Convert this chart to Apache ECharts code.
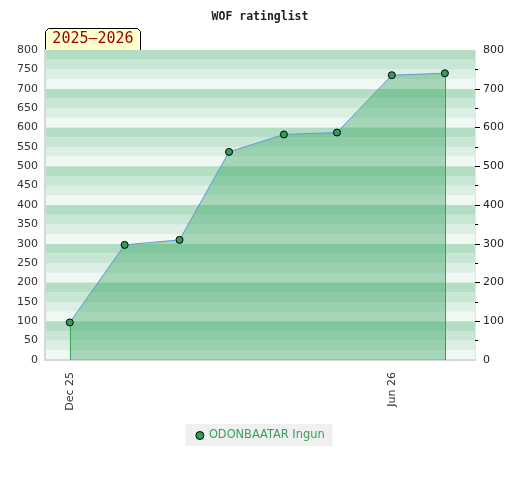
<!DOCTYPE html>
<html><head><meta charset="utf-8">
<script src="https://cdn.jsdelivr.net/npm/echarts@6/dist/echarts.min.js"></script>
<style>html,body{margin:0;padding:0;background:#fff}#c{width:520px;height:480px}</style>
</head><body><div id="c"></div>
<script>
const chartTitle = 'WOF ratinglist';
const seasonLabel = '2025–2026';
const playerName = 'ODONBAATAR Ingun';
const dates = ['2025-12-01','2026-01-01','2026-02-01','2026-03-01','2026-04-01','2026-05-01','2026-06-01','2026-07-01'];
const ratings = [97, 297, 310, 537, 582, 587, 735, 740];
const xTickDates = ['2025-12-01','2026-06-01'];
const xMin = '2025-11-17', xMax = '2026-07-18';
const yMin = 0, yMax = 800;
const monthNames = ['Jan','Feb','Mar','Apr','May','Jun','Jul','Aug','Sep','Oct','Nov','Dec'];

const ts = s => { const [y,m,d] = s.split('-').map(Number); return Date.UTC(y, m-1, d); };
const seriesData = dates.map((d,i)=>[ts(d), ratings[i]]);
const last = seriesData.length-1;

const chart = echarts.init(document.getElementById('c'), null, {renderer:'canvas'});
const font = 'DejaVu Sans';
chart.setOption({
  animation:false,
  title:{text:chartTitle,left:'center',top:6,textStyle:{fontFamily:'DejaVu Sans Mono',fontWeight:'bold',fontSize:11.5,color:'#222'}},
  grid:{left:45,right:45,top:50,bottom:120,containLabel:false},
  legend:{bottom:34,left:'center',backgroundColor:'#f0f0f0',padding:[6,8,5,10],itemWidth:8,itemHeight:8,itemGap:8,
    textStyle:{color:'#3a9e5a',fontFamily:font,fontSize:11.4},
    data:[{name:playerName,icon:'circle',itemStyle:{color:'#2e9e5a',borderColor:'#000',borderWidth:1}}]},
  xAxis:{type:'value',min:ts(xMin),max:ts(xMax),
    axisLine:{show:true,lineStyle:{color:'#d8d8d8',width:2}},
    axisTick:{show:false},splitLine:{show:false},
    axisLabel:{rotate:90,color:'#333',fontFamily:font,fontSize:11,margin:12,
      customValues:xTickDates.map(ts),
      formatter:v=>{const d=new Date(v);return monthNames[d.getUTCMonth()]+' '+String(d.getUTCFullYear()).slice(2);}}},
  yAxis:[
    {type:'value',min:yMin,max:yMax,interval:50,position:'left',
      axisLine:{show:true,lineStyle:{color:'#d8d8d8',width:2}},axisTick:{show:false},
      axisLabel:{color:'#333',fontFamily:font,fontSize:11,margin:7},
      splitLine:{show:false}},
    {type:'value',min:yMin,max:yMax,interval:100,position:'right',
      axisLine:{show:true,lineStyle:{color:'#e4e4e4'}},
      axisTick:{show:true,inside:false,length:5,lineStyle:{color:'#000'},customValues:[100,200,300,400,500,600,700]},
      minorTick:{show:true,splitNumber:2,length:3,lineStyle:{color:'#000'}},
      axisLabel:{color:'#222',fontFamily:font,fontSize:11,margin:8},
      splitLine:{show:true,lineStyle:{color:'#d9dfdb',width:1}}},
    {type:'value',min:yMin,max:yMax,interval:25,position:'left',
      axisLine:{show:false},axisTick:{show:false},axisLabel:{show:false},splitLine:{show:false},
      splitArea:{show:true,areaStyle:{color:['#f0f8f3','#ddeee4','#c8e6d4','#b3dec4']}}}
  ],
  series:[{
    name:playerName,type:'line',data:seriesData,yAxisIndex:0,z:5,
    symbol:'circle',symbolSize:7,
    itemStyle:{color:'#2e9e5a',borderColor:'#000',borderWidth:1},
    lineStyle:{color:'#5b9bd5',width:1},
    areaStyle:{color:'rgba(48,160,88,0.56)',origin:'start'},
    markLine:{silent:true,symbol:'none',label:{show:false},
      data:[
        [{coord:seriesData[0],lineStyle:{color:'#3cb060',width:1,type:'solid'}},{coord:[seriesData[0][0],yMin]}],
        [{coord:seriesData[last],lineStyle:{color:'#3a9a5a',width:1,type:'solid'}},{coord:[seriesData[last][0],yMin]}]
      ]}
  }],
  graphic:[{type:'group',left:45,top:28,children:[
    {type:'polygon',shape:{points:[[0,22],[0,3],[3,0],[92,0],[95,3],[95,22]]},style:{fill:'#ffffcc',stroke:'#000',lineWidth:1}},
    {type:'text',x:47.5,y:11,style:{text:seasonLabel,align:'center',verticalAlign:'middle',fill:'#990000',font:'15px DejaVu Sans Mono'}}
  ]}]
});
</script></body></html>
